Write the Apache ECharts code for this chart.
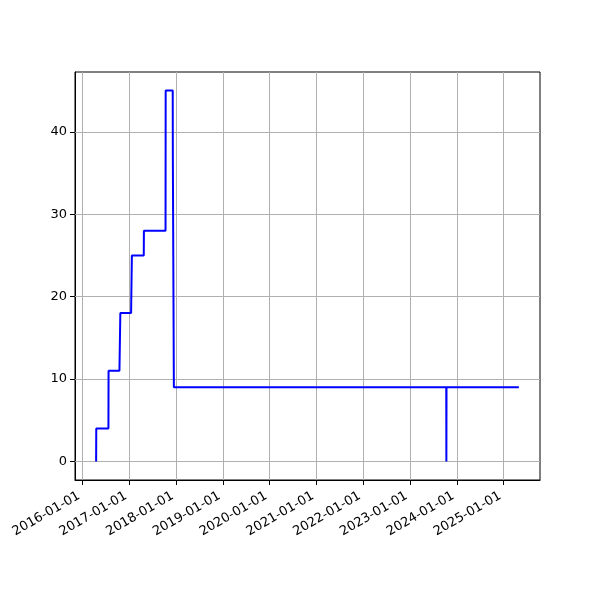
<!DOCTYPE html>
<html>
<head>
<meta charset="utf-8">
<script src="https://cdn.jsdelivr.net/npm/echarts@6/dist/echarts.min.js"></script>
<style>html,body{margin:0;padding:0;background:#fff}#c{width:600px;height:600px}</style>
</head>
<body>
<div id="c"></div>
<script>
const dates = ['2016-04-16','2016-04-17','2016-07-21','2016-07-22','2016-10-15','2016-10-22',
  '2017-01-14','2017-01-20','2017-04-23','2017-04-24','2017-10-10','2017-10-11',
  '2017-12-05','2017-12-06','2017-12-13','2017-12-14','2023-10-11','2023-10-12','2023-10-13','2025-04-30'];
const values = [0,4,4,11,11,18,18,25,25,28,28,45,45,37,37,9,9,0,9,9];
const yTicks = [0,10,20,30,40];
const xTickLabels = ['2016-01-01','2017-01-01','2018-01-01','2019-01-01','2020-01-01',
  '2021-01-01','2022-01-01','2023-01-01','2024-01-01','2025-01-01'];

const ts = dates.map(d => Date.parse(d + 'T00:00:00Z'));
const tMin = Math.min(...ts), tMax = Math.max(...ts);
const span = tMax - tMin;
const xMin = tMin - 0.05 * span, xMax = tMax + 0.05 * span;
const yMin = Math.min(...values), yMax = Math.max(...values);
const ySpan = yMax - yMin;
const xTickTs = xTickLabels.map(d => Date.parse(d + 'T00:00:00Z'));

const chart = echarts.init(document.getElementById('c'), null, {renderer: 'canvas'});
const font = 'DejaVu Sans';
chart.setOption({
  animation: false,
  grid: {left: 75, right: 60, top: 72, bottom: 120, show: true, borderColor: '#000', borderWidth: 1},
  xAxis: {
    type: 'value',
    min: xMin, max: xMax,
    axisLine: {show: true, onZero: false, lineStyle: {color: '#000', width: 1}},
    axisTick: {show: true, length: 5, lineStyle: {color: '#000'}, customValues: xTickTs},
    axisLabel: {customValues: xTickTs, rotate: 30, fontFamily: font, fontSize: 13, color: '#000', margin: 13,
      padding: [0, 4, 0, 0],
      formatter: v => { const d = new Date(v); return d.toISOString().slice(0,10); }},
    splitLine: {show: false}
  },
  yAxis: {
    type: 'value',
    min: yMin - 0.05 * ySpan, max: yMax + 0.05 * ySpan,
    axisLine: {show: true, onZero: false, lineStyle: {color: '#000', width: 1}},
    axisTick: {show: true, length: 5, lineStyle: {color: '#000'}, customValues: yTicks},
    axisLabel: {customValues: yTicks, fontFamily: font, fontSize: 13, color: '#000', margin: 8},
    splitLine: {show: false}
  },
  series: [
    {
      type: 'line',
      data: ts.map((t, i) => [t, values[i]]),
      showSymbol: false,
      lineStyle: {color: '#0000ff', width: 2},
      z: 3,
      markLine: {
        silent: true, symbol: 'none', label: {show: false},
        lineStyle: {color: '#b0b0b0', width: 1, type: 'solid'},
        data: xTickTs.map(t => ({xAxis: t})).concat(yTicks.map(v => ({yAxis: v}))),
        z: 1
      }
    }
  ]
});
</script>
</body>
</html>
